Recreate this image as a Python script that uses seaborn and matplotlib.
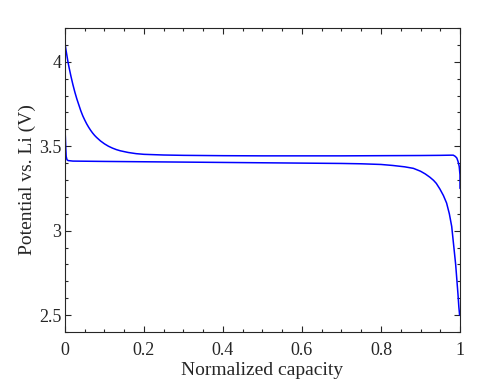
import numpy as np
import pandas as pd
import matplotlib
matplotlib.use("Agg")
import matplotlib.pyplot as plt
from matplotlib.ticker import MultipleLocator
import seaborn as sns

# upper curve (starts at 4.1 V, relaxes to plateau ~3.445 V)
cap_upper = [0.0, 0.0025, 0.005, 0.0075, 0.01, 0.015, 0.02, 0.025, 0.03, 0.035,
             0.04, 0.045, 0.05, 0.055, 0.06, 0.065, 0.07, 0.075, 0.08, 0.09,
             0.10, 0.11, 0.12, 0.13, 0.14, 0.16, 0.18, 0.20, 0.25, 0.30, 0.40,
             0.50, 0.60, 0.70, 0.80, 0.90, 0.95, 0.975, 0.983, 0.988, 0.992,
             0.995, 0.998, 1.0, 1.0]
pot_upper = [4.11, 4.07, 4.035, 4.00, 3.97, 3.915, 3.865, 3.82, 3.78, 3.745,
             3.71, 3.68, 3.655, 3.632, 3.612, 3.594, 3.578, 3.564, 3.552, 3.531,
             3.514, 3.50, 3.489, 3.48, 3.473, 3.463, 3.456, 3.452, 3.448, 3.446, 3.444,
             3.443, 3.443, 3.443, 3.444, 3.445, 3.446, 3.447, 3.447, 3.44, 3.43,
             3.41, 3.38, 3.33, 3.25]

# lower curve (spike at start, plateau ~3.41 V, drop to 2.5 V)
cap_lower = [0.0, 0.001, 0.002, 0.003, 0.005, 0.008, 0.02, 0.10, 0.20, 0.30, 0.40,
             0.50, 0.60, 0.70, 0.75, 0.80, 0.83, 0.86, 0.882, 0.90, 0.912, 0.924,
             0.933, 0.94, 0.949, 0.958, 0.966, 0.973, 0.979, 0.985, 0.989, 0.992,
             0.995, 0.997, 0.999]
pot_lower = [3.60, 3.55, 3.49, 3.44, 3.42, 3.415, 3.412, 3.41, 3.408, 3.406, 3.404,
             3.402, 3.40, 3.398, 3.396, 3.392, 3.386, 3.378, 3.369, 3.352, 3.336, 3.316,
             3.298, 3.28, 3.247, 3.208, 3.164, 3.10, 3.025, 2.89, 2.80, 2.71,
             2.62, 2.55, 2.50]

sns.set_style("ticks")
plt.rcParams['font.family'] = ['Liberation Serif', 'DejaVu Serif']

fig = plt.figure(figsize=(4.98, 3.81), dpi=100)
ax = fig.add_axes([0.1305, 0.1286, 0.7932, 0.7979])

upper = pd.DataFrame({"cap": cap_upper, "pot": pot_upper})
lower = pd.DataFrame({"cap": cap_lower, "pot": pot_lower})
sns.lineplot(data=upper, x="cap", y="pot", sort=False, estimator=None,
             color="#0000ff", linewidth=1.1, ax=ax)
sns.lineplot(data=lower, x="cap", y="pot", sort=False, estimator=None,
             color="#0000ff", linewidth=1.1, ax=ax)

ax.set_xlim(0, 1)
ax.set_ylim(2.4, 4.2)
ax.xaxis.set_major_locator(MultipleLocator(0.2))
ax.xaxis.set_minor_locator(MultipleLocator(0.05))
ax.yaxis.set_major_locator(MultipleLocator(0.5))
ax.yaxis.set_minor_locator(MultipleLocator(0.1))
ax.xaxis.set_major_formatter(plt.FuncFormatter(lambda v, p: f"{v:g}"))
ax.yaxis.set_major_formatter(plt.FuncFormatter(lambda v, p: f"{v:g}"))

ax.tick_params(which="both", direction="in", top=True, right=True,
               labelsize=13, colors="#262626", width=0.8)
ax.tick_params(which="major", length=4)
ax.tick_params(which="minor", length=2)
ax.tick_params(axis="x", which="major", pad=7)
ax.tick_params(axis="y", which="major", pad=2.5)
for s in ax.spines.values():
    s.set_visible(True)
    s.set_linewidth(0.8)
    s.set_color("#262626")

ax.set_xlabel("Normalized capacity", fontsize=14, labelpad=2)
ax.set_ylabel("Potential vs. Li (V)", fontsize=14, labelpad=2)

fig.savefig("out.png", dpi=100)
